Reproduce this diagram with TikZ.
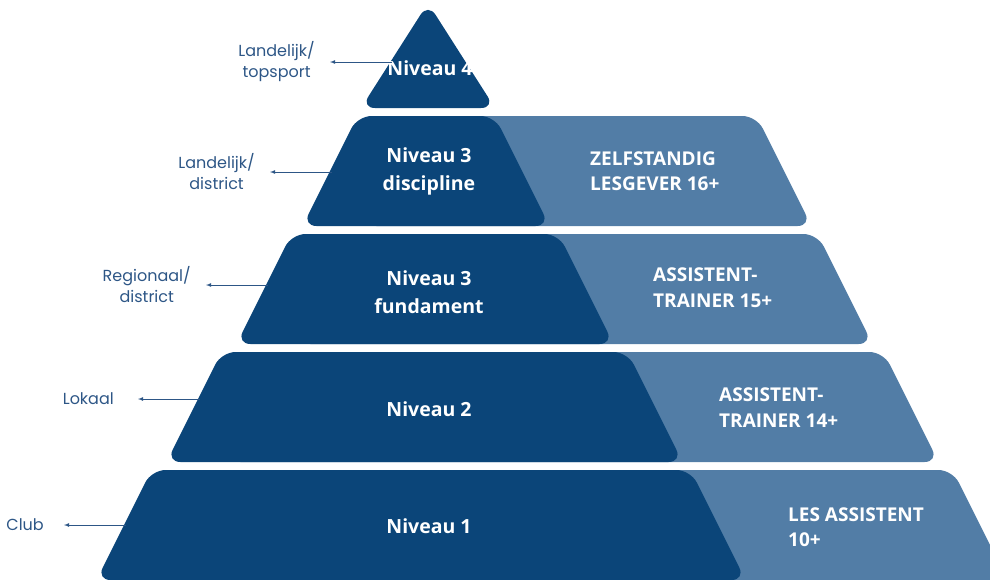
\documentclass[tikz,border=0pt]{standalone}
\usepackage{fontspec}
\setmainfont{Open Sans}
\newfontfamily\lblfont{Poppins}
\usetikzlibrary{arrows}
\usetikzlibrary{positioning}
\definecolor{nivdark}{HTML}{0B4579}
\definecolor{nivlight}{HTML}{527DA6}
\definecolor{lbltext}{HTML}{2D5686}

\begin{document}
\begin{tikzpicture}[x=1pt,y=-1pt,
		tier/.style={rounded corners=14pt},
		niv/.style={text=white, align=center, inner sep=0pt, font=\bfseries\fontsize{19.5}{28.5}\selectfont},
		rol/.style={text=white, align=left, anchor=west, inner sep=0pt, font=\bfseries\fontsize{19}{25.5}\selectfont},
		lbl/.style={text=lbltext, align=center, inner xsep=15pt, inner ysep=0pt, font=\lblfont\fontsize{16}{21}\selectfont},
		arr/.style={draw=lbltext, line width=0.8pt, -latex}]
				\useasboundingbox (0,0) rectangle (990,579);
				\fill[nivdark, tier] (428,3) -- (495,108) -- (361,108) -- cycle;
				% top / left / dark right / light right
				\foreach \t/\l/\d/\r in {116/330/522/784, 234/264/586/845, 352/194/655/911, 470/124/718/980}{
					\fill[nivlight, tier] ({\l+87.5},\t) -- ({\r-27.5},\t) -- ({\r+27.5},{\t+110}) -- ({\l+32.5},{\t+110}) -- cycle;
					\fill[nivdark, tier] ({\l+27.5},\t) -- ({\d-27.5},\t) -- ({\d+27.5},{\t+110}) -- ({\l-27.5},{\t+110}) -- cycle;
				}
				\node[niv] (niv4) at (430,68) {Niveau 4};
				\node[niv] (niv3d) at (429,171.5) {Niveau 3\\discipline};
				\node[niv] (niv3f) at (429,292) {Niveau 3\\fundament};
				\node[niv] (niv2) at (429,409) {Niveau 2};
				\node[niv] (niv1) at (429,526) {Niveau 1};
				\node[rol] (rol3d) at (590,171) {ZELFSTANDIG\\LESGEVER 16+};
				\node[rol] (rol3f) at (653,287.5) {ASSISTENT-\\TRAINER 15+};
				\node[rol] (rol2) at (719,407.5) {ASSISTENT-\\TRAINER 14+};
				\node[rol] (rol1) at (788,527) {LES ASSISTENT\\10+};
				\coordinate (e4) at (392,62);
				\coordinate (e3d) at (332,172);
				\coordinate (e3f) at (268,285);
				\coordinate (e2) at (200,399);
				\coordinate (e1) at (126,525);
				\node[lbl, left=62pt of e4] (top) {Landelijk/\\topsport};
				\node[lbl, left=62pt of e3d] (dis) {Landelijk/\\district};
				\node[lbl, left=62pt of e3f] (reg) {Regionaal/\\district};
				\node[lbl, inner xsep=24pt, left=62pt of e2] (lok) {Lokaal};
				\node[lbl, inner xsep=20pt, left=62pt of e1] (club) {Club};
				\draw[arr] (e4) -- (top);
				\draw[arr] (e3d) -- (dis);
				\draw[arr] (e3f) -- (reg);
				\draw[arr] (e2) -- (lok);
				\draw[arr] (e1) -- (club);
\end{tikzpicture}
\end{document}
